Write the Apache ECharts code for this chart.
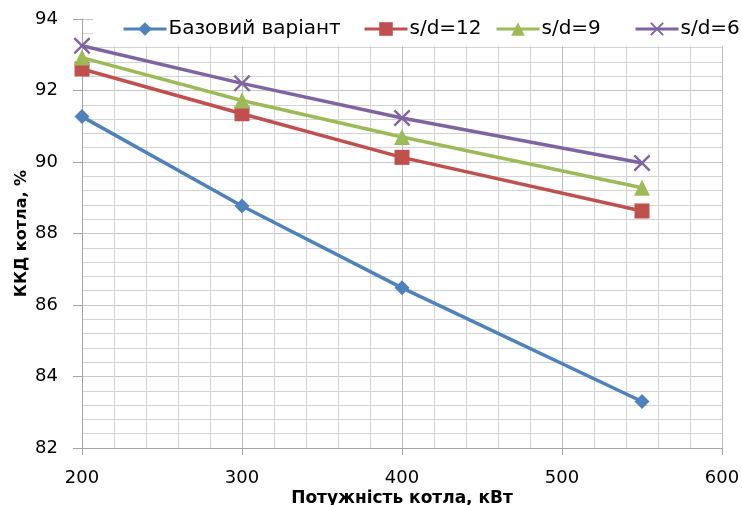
<!DOCTYPE html>
<html>
<head>
<meta charset="utf-8">
<script src="https://cdn.jsdelivr.net/npm/echarts@6/dist/echarts.min.js"></script>
<style>
  html, body { margin: 0; padding: 0; background: #fff; }
  #chart { width: 742px; height: 505px; }
</style>
</head>
<body>
<div id="chart"></div>
<script>
// Boiler power, kW
const power = [200, 300, 400, 550];
// Boiler efficiency, % — one list per configuration
const baseVariant = [91.27, 88.77, 86.48, 83.3];
const sd12 = [92.6, 91.35, 90.13, 88.63];
const sd9 = [92.92, 91.72, 90.7, 89.28];
const sd6 = [93.25, 92.2, 91.23, 89.97];
const seriesNames = ['Базовий варіант', 's/d=12', 's/d=9', 's/d=6'];
const xTitle = 'Потужність котла, кВт';
const yTitle = 'ККД котла, %';

const FONT = 'DejaVu Sans';
const colors = ['#4F81BD', '#C0504D', '#9BBB59', '#8064A2'];
const crossPath = 'path://M0,1L1,0L5,4L9,0L10,1L6,5L10,9L9,10L5,6L1,10L0,9L4,5Z';
const symbols = ['diamond', 'rect', 'triangle', crossPath];
const symbolSizes = [15, 15, 16, 17];
const values = [baseVariant, sd12, sd9, sd6];
// left edge of each legend entry
const legendLeft = [122, 363, 495, 634];

const chart = echarts.init(document.getElementById('chart'), null, { renderer: 'canvas' });

const series = values.map((v, i) => ({
  name: seriesNames[i],
  type: 'line',
  data: power.map((p, k) => [p, v[k]]),
  symbol: symbols[i],
  symbolSize: symbolSizes[i],
  showAllSymbol: true,
  color: colors[i],
  lineStyle: { width: 3.5, color: colors[i] },
  itemStyle: { color: colors[i] },
  emphasis: { disabled: true },
  animation: false,
  z: 3 + i
}));

const legends = seriesNames.map((name, i) => ({
  left: legendLeft[i],
  top: 19,
  padding: 0,
  itemWidth: 43,
  itemHeight: 17,
  itemGap: 0,
  lineStyle: { width: 3 },
  textStyle: { fontFamily: FONT, fontSize: 20, color: '#000', padding: [0, 0, 0, -3] },
  data: [name],
  selectedMode: false,
  z: 10
}));

chart.setOption({
  animation: false,
  textStyle: { fontFamily: FONT },
  grid: { left: 82, right: 20, top: 19, bottom: 57, containLabel: false, outerBoundsMode: 'none' },
  // white box behind the legend row, over the top of the plot
  graphic: [{
    type: 'rect',
    shape: { x: 93, y: 8, width: 649, height: 38 },
    style: { fill: '#ffffff' },
    z: 2,
    silent: true
  }],
  legend: legends,
  xAxis: {
    type: 'value',
    min: 200,
    max: 600,
    interval: 100,
    name: xTitle,
    nameLocation: 'middle',
    nameGap: 42,
    nameMoveOverlap: false,
    nameTextStyle: { fontFamily: FONT, fontSize: 17, fontWeight: 'bold', color: '#000' },
    axisLine: { show: true, onZero: false, lineStyle: { color: '#A6A6A6', width: 1 } },
    axisTick: { show: true, length: 7, lineStyle: { color: '#A6A6A6' } },
    axisLabel: { fontFamily: FONT, fontSize: 18, color: '#000', margin: 21 },
    splitLine: { show: true, lineStyle: { color: '#BFBFBF', width: 1 } },
    minorTick: { show: false, splitNumber: 5 },
    minorSplitLine: { show: true, lineStyle: { color: '#D4D4D4', width: 1 } }
  },
  yAxis: {
    type: 'value',
    min: 82,
    max: 94,
    interval: 2,
    name: yTitle,
    nameLocation: 'middle',
    nameGap: 52,
    nameMoveOverlap: false,
    nameTextStyle: { fontFamily: FONT, fontSize: 16, fontWeight: 'bold', color: '#000' },
    axisLine: { show: true, lineStyle: { color: '#A6A6A6', width: 1 } },
    axisTick: { show: true, length: 9, lineStyle: { color: '#A6A6A6' } },
    axisLabel: { fontFamily: FONT, fontSize: 18, color: '#000', margin: 24 },
    splitLine: { show: true, lineStyle: { color: '#C8C8C8', width: 1 } },
    minorTick: { show: false, splitNumber: 5 },
    minorSplitLine: { show: true, lineStyle: { color: '#D4D4D4', width: 1 } }
  },
  series: series
});
</script>
</body>
</html>
